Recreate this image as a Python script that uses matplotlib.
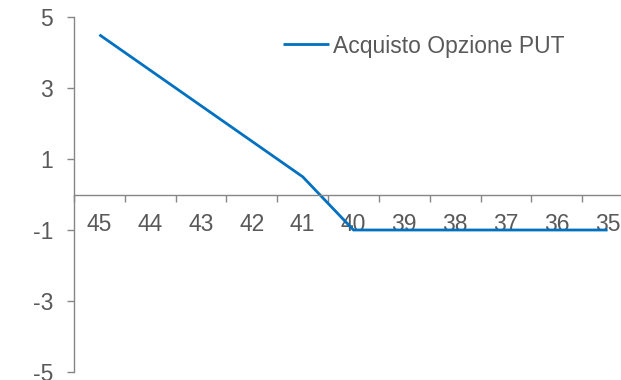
import numpy as np
import matplotlib.pyplot as plt

plt.rcParams['font.family'] = ['Liberation Sans', 'DejaVu Sans']

prices = ["45", "44", "43", "42", "41", "40", "39", "38", "37", "36", "35"]
payoff = [4.5, 3.5, 2.5, 1.5, 0.5, -1, -1, -1, -1, -1, -1]
y_ticks = [5, 3, 1, -1, -3, -5]

axis_grey = "#868686"
text_grey = "#595959"
blue = "#0070C0"

fig = plt.figure(figsize=(6.21, 3.8), dpi=100)
ax = fig.add_axes([74 / 621, 8 / 380, 559 / 621, 355 / 380])

x = np.arange(len(prices))
ax.plot(x, payoff, color=blue, linewidth=2.0, label="Acquisto Opzione PUT",
        solid_capstyle="butt", solid_joinstyle="miter")

ax.set_xlim(-0.5, len(prices) - 0.5)
ax.set_ylim(-5, 5)

# category axis crosses at zero, ticks between categories
ax.spines["bottom"].set_position(("data", 0))
ax.spines["top"].set_visible(False)
ax.spines["right"].set_visible(False)
for s in ("bottom", "left"):
    ax.spines[s].set_color(axis_grey)
    ax.spines[s].set_linewidth(1.0)

ax.set_xticks(x)
ax.set_xticklabels(prices)
ax.set_xticks(np.arange(-0.5, len(prices)), minor=True)
ax.tick_params(axis="x", which="major", length=0, pad=13.5, labelsize=16.5, labelcolor=text_grey)
ax.tick_params(axis="x", which="minor", length=5, width=1.0, color=axis_grey, direction="out")

ax.set_yticks(y_ticks)
ax.set_yticklabels([str(v) for v in y_ticks])
ax.tick_params(axis="y", length=5, width=1.0, color=axis_grey, pad=10, labelsize=16.5, labelcolor=text_grey)

leg = ax.legend(loc="center left", bbox_to_anchor=(283 / 621, 1 - 46 / 380),
                bbox_transform=fig.transFigure, frameon=False, fontsize=16.5,
                handlelength=2.0, handletextpad=0.2, borderpad=0, borderaxespad=0)
for t in leg.get_texts():
    t.set_color(text_grey)

fig.savefig("out.png", dpi=100)
